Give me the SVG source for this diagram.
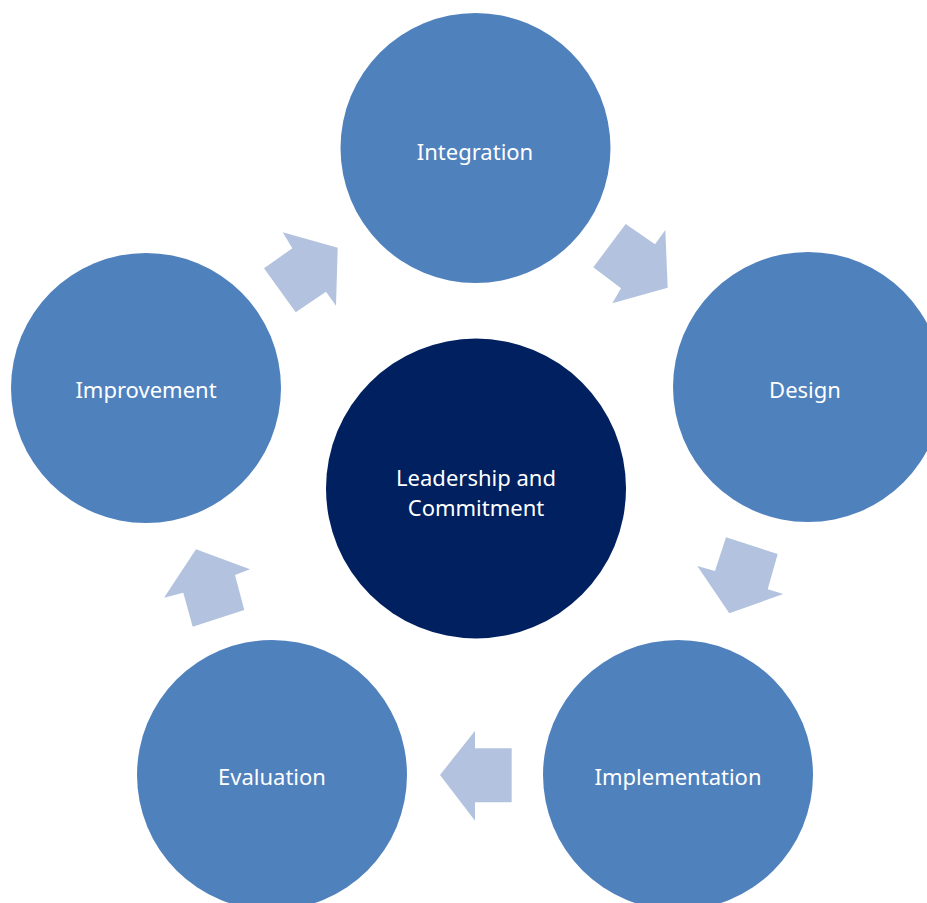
<svg xmlns="http://www.w3.org/2000/svg" width="927" height="903" viewBox="0 0 927 903">
<style>
.node{fill:#4F81BD}
.core{fill:#002060}
.arr{fill:#B3C3DF}
.lbl{font-family:"Noto Sans","Open Sans",sans-serif;font-size:22px;fill:#FFFFFF;text-anchor:middle;dominant-baseline:central}
</style>
<rect width="927" height="903" fill="#FFFFFF"/>
<g id="connectors">
<polygon class="arr" points="282.7,232.3 337.7,247.7 336,305.7 326,291.7 295.7,312.3 264,268.3 292.3,248.3"/>
<polygon class="arr" points="625.7,224 655,244.3 665.3,230 667.7,287.7 612.3,303.3 621,288.3 593.3,267.3"/>
<polygon class="arr" points="726,537.3 777.7,554 767.7,589.3 783.3,594 729.3,613.3 697.3,566 715,571"/>
<polygon class="arr" points="475,730.7 475,748.3 511.7,748.3 511.7,802.3 475,802.3 475,820.7 440,775"/>
<polygon class="arr" points="196,549.3 250,569.3 235,575 244.3,610 192.7,626.7 183.3,592.7 164,597.7"/>
</g>
<g id="integration"><circle class="node" cx="475.5" cy="148" r="135"/><text class="lbl" x="475" y="151">Integration</text></g>
<g id="design"><circle class="node" cx="808" cy="387" r="135"/><text class="lbl" x="805" y="389">Design</text></g>
<g id="implementation"><circle class="node" cx="678" cy="775" r="135"/><text class="lbl" x="678" y="776">Implementation</text></g>
<g id="evaluation"><circle class="node" cx="272" cy="775" r="135"/><text class="lbl" x="272" y="776">Evaluation</text></g>
<g id="improvement"><circle class="node" cx="146" cy="388" r="135"/><text class="lbl" x="146" y="389">Improvement</text></g>
<g id="leadership"><circle class="core" cx="476" cy="488.5" r="150"/><text class="lbl" x="476" y="477">Leadership and</text><text class="lbl" x="476" y="507">Commitment</text></g>
</svg>
